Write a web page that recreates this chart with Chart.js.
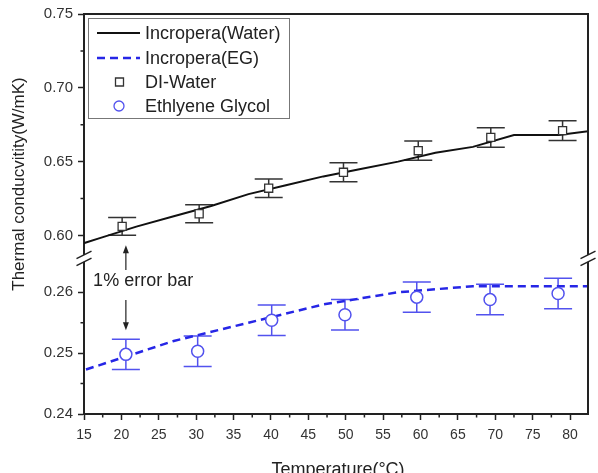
<!DOCTYPE html>
<html>
<head>
<meta charset="utf-8">
<script src="https://cdn.jsdelivr.net/npm/chart.js@4/dist/chart.umd.min.js"></script>
<style>
  html, body { margin: 0; padding: 0; background: #fff; }
  #wrap { width: 598px; height: 473px; }
</style>
</head>
<body>
<div id="wrap"><canvas id="myChart" width="598" height="473"></canvas></div>
<script>
// Incropera tables (lines)
const waterLineT = [12, 17, 22, 27, 32, 37, 42, 47, 52, 57, 62, 67, 72.5, 78.5, 83];
const waterLineK = [0.590, 0.598, 0.606, 0.613, 0.620, 0.628, 0.634, 0.640, 0.645, 0.650, 0.656, 0.660, 0.668, 0.668, 0.671];
const egLineT = [7, 17, 27, 37, 47, 57, 67, 77, 87];
const egLineK = [0.244, 0.248, 0.252, 0.255, 0.258, 0.260, 0.261, 0.261, 0.261];

// measured points + 1% error bars
const waterT = [20.1, 30.4, 39.7, 49.7, 59.7, 69.4, 79.0];
const waterK = [0.6061, 0.6147, 0.6320, 0.6428, 0.6574, 0.6664, 0.6710];
const waterErr = [0.0060, 0.0061, 0.0063, 0.0064, 0.0065, 0.0066, 0.0067];
const egT = [20.6, 30.2, 40.1, 49.9, 59.5, 69.3, 78.4];
const egK = [0.2498, 0.2503, 0.2554, 0.2563, 0.2592, 0.2588, 0.2598];
const egErr = [0.0025, 0.0025, 0.0025, 0.0025, 0.0025, 0.0025, 0.0025];

// ticks
const xTicks = [15, 20, 25, 30, 35, 40, 45, 50, 55, 60, 65, 70, 75, 80];
const xMinor = [17.5, 22.5, 27.5, 32.5, 37.5, 42.5, 47.5, 52.5, 57.5, 62.5, 67.5, 72.5, 77.5];
const yTopTicks = [0.60, 0.65, 0.70, 0.75];
const yTopMinor = [0.625, 0.675, 0.725];
const yBotTicks = [0.24, 0.25, 0.26];
const yBotMinor = [0.245, 0.255];

const FONT = 'Arial, "Liberation Sans", sans-serif';
const INK = '#222';
const BLUE = '#2626e6';
const BLUE_PT = '#5252ee';

const pts = (xs, ys) => xs.map((x, i) => ({ x: x, y: ys[i] }));

// error bars, drawn under the markers
const errorBars = {
  id: 'errorBars',
  beforeDatasetsDraw(chart) {
    const ctx = chart.ctx;
    const xs = chart.scales.x;
    chart.data.datasets.forEach(ds => {
      if (!ds.errors) return;
      const ys = chart.scales[ds.yAxisID];
      ctx.save();
      ctx.strokeStyle = ds.borderColor;
      ctx.lineWidth = 1.5;
      ds.data.forEach((p, j) => {
        const px = xs.getPixelForValue(p.x);
        const top = ys.getPixelForValue(p.y + ds.errors[j]);
        const bot = ys.getPixelForValue(p.y - ds.errors[j]);
        ctx.beginPath();
        ctx.moveTo(px, top); ctx.lineTo(px, bot);
        ctx.moveTo(px - 14, top); ctx.lineTo(px + 14, top);
        ctx.moveTo(px - 14, bot); ctx.lineTo(px + 14, bot);
        ctx.stroke();
      });
      ctx.restore();
    });
  }
};

function arrow(ctx, x, y0, y1) {
  const dir = y1 > y0 ? 1 : -1;
  ctx.beginPath();
  ctx.moveTo(x, y0); ctx.lineTo(x, y1 - dir * 6);
  ctx.stroke();
  ctx.beginPath();
  ctx.moveTo(x, y1);
  ctx.lineTo(x - 3, y1 - dir * 8);
  ctx.lineTo(x + 3, y1 - dir * 8);
  ctx.closePath();
  ctx.fill();
}

// frame, minor ticks, axis breaks, titles, note, legend
const decorations = {
  id: 'decorations',
  afterDraw(chart) {
    const ctx = chart.ctx;
    const a = chart.chartArea;
    const xs = chart.scales.x, yt = chart.scales.yTop, yb = chart.scales.yBot;
    ctx.save();
    ctx.strokeStyle = INK;
    ctx.fillStyle = INK;

    // top and right frame
    ctx.lineWidth = 2;
    ctx.beginPath();
    ctx.moveTo(a.left, a.top); ctx.lineTo(a.right, a.top); ctx.lineTo(a.right, a.bottom);
    ctx.stroke();

    // minor ticks
    ctx.lineWidth = 1.5;
    ctx.beginPath();
    xMinor.forEach(v => { const p = xs.getPixelForValue(v); ctx.moveTo(p, a.bottom); ctx.lineTo(p, a.bottom + 3.5); });
    yTopMinor.forEach(v => { const p = yt.getPixelForValue(v); ctx.moveTo(a.left, p); ctx.lineTo(a.left - 3.5, p); });
    yBotMinor.forEach(v => { const p = yb.getPixelForValue(v); ctx.moveTo(a.left, p); ctx.lineTo(a.left - 3.5, p); });
    ctx.stroke();

    // axis breaks
    const brk = yt.bottom;
    [a.left, a.right].forEach(x0 => {
      ctx.fillStyle = '#fff';
      ctx.fillRect(x0 - 2, brk - 3.5, 4, 7);
      ctx.strokeStyle = INK;
      ctx.lineWidth = 1.5;
      ctx.beginPath();
      [-3.5, 3.5].forEach(d => {
        ctx.moveTo(x0 - 7.5, brk + d + 3.8);
        ctx.lineTo(x0 + 7.5, brk + d - 3.8);
      });
      ctx.stroke();
    });

    // axis titles
    ctx.fillStyle = INK;
    ctx.font = '17px ' + FONT;
    ctx.textAlign = 'center';
    ctx.textBaseline = 'middle';
    ctx.save();
    ctx.translate(19, 184);
    ctx.rotate(-Math.PI / 2);
    ctx.fillText('Thermal conducvitity(W/mK)', 0, 0);
    ctx.restore();
    ctx.font = '18px ' + FONT;
    ctx.textBaseline = 'alphabetic';
    ctx.fillText('Temperature(°C)', (a.left + a.right) / 2 + 2, 475);

    // 1% error bar note
    const wx = xs.getPixelForValue(waterT[0]);
    const ex = xs.getPixelForValue(egT[0]);
    ctx.font = '18px ' + FONT;
    ctx.textBaseline = 'middle';
    ctx.fillText('1% error bar', wx + 21, 281);
    ctx.lineWidth = 1.2;
    arrow(ctx, ex, 270, yt.getPixelForValue(waterK[0] - waterErr[0]) + 10);
    arrow(ctx, ex, 300, yb.getPixelForValue(egK[0] + egErr[0]) - 9);

    // legend
    const lx = a.left + 4, ly = a.top + 4;
    ctx.fillStyle = '#fff';
    ctx.fillRect(lx, ly, 201, 100);
    ctx.strokeStyle = '#777';
    ctx.lineWidth = 1;
    ctx.strokeRect(lx + 0.5, ly + 0.5, 201, 100);
    const rows = [15, 40, 64, 88];
    chart.data.datasets.forEach((ds, i) => {
      const ry = ly + rows[i];
      ctx.save();
      if (ds.showLine) {
        ctx.strokeStyle = ds.borderColor;
        ctx.lineWidth = ds.borderWidth;
        ctx.setLineDash(ds.borderDash || []);
        ctx.beginPath();
        ctx.moveTo(lx + 9, ry); ctx.lineTo(lx + 52, ry);
        ctx.stroke();
      } else {
        ctx.strokeStyle = ds.borderColor;
        ctx.lineWidth = 1.3;
        ctx.beginPath();
        if (ds.pointStyle === 'rect') ctx.rect(lx + 27.5, ry - 4, 8, 8);
        else ctx.arc(lx + 31, ry, 5, 0, Math.PI * 2);
        ctx.stroke();
      }
      ctx.restore();
      ctx.fillStyle = INK;
      ctx.font = '18px ' + FONT;
      ctx.textAlign = 'left';
      ctx.textBaseline = 'middle';
      ctx.fillText(ds.label, lx + 57, ry + 1);
    });
    ctx.restore();
  }
};

const xFont = { family: FONT, size: 14 };
const yFont = { family: FONT, size: 15 };

new Chart(document.getElementById('myChart'), {
  type: 'scatter',
  data: {
    datasets: [
      {
        label: 'Incropera(Water)',
        data: pts(waterLineT, waterLineK),
        yAxisID: 'yTop',
        showLine: true,
        borderColor: '#111',
        borderWidth: 2,
        pointRadius: 0,
        order: 2
      },
      {
        label: 'Incropera(EG)',
        data: pts(egLineT, egLineK),
        yAxisID: 'yBot',
        showLine: true,
        borderColor: BLUE,
        borderWidth: 2.5,
        borderDash: [8, 5],
        pointRadius: 0,
        order: 2
      },
      {
        label: 'DI-Water',
        data: pts(waterT, waterK),
        errors: waterErr,
        yAxisID: 'yTop',
        pointStyle: 'rect',
        pointRadius: 5.7,
        borderColor: '#333',
        pointBorderWidth: 1.3,
        pointBackgroundColor: '#fff',
        order: 1
      },
      {
        label: 'Ethlyene Glycol',
        data: pts(egT, egK),
        errors: egErr,
        yAxisID: 'yBot',
        pointStyle: 'circle',
        pointRadius: 6,
        borderColor: BLUE_PT,
        pointBorderWidth: 1.5,
        pointBackgroundColor: '#fff',
        order: 1
      }
    ]
  },
  options: {
    responsive: false,
    animation: false,
    layout: { padding: { top: 13, right: 10, left: 0, bottom: 0 } },
    scales: {
      x: {
        type: 'linear',
        position: 'bottom',
        min: 15,
        max: 82.4,
        afterBuildTicks: s => { s.ticks = xTicks.map(v => ({ value: v })); },
        afterFit: s => { s.height = 59; },
        grid: { drawOnChartArea: false, tickLength: 6, tickColor: INK, tickWidth: 1.5 },
        border: { color: INK, width: 2 },
        ticks: { color: '#333', font: xFont, padding: 7, maxRotation: 0, autoSkip: false }
      },
      // left boxes are stacked in reverse order, so the lower part comes first
      yBot: {
        type: 'linear',
        position: 'left',
        stack: 'k',
        stackWeight: 156,
        min: 0.24,
        max: 0.26557,
        afterBuildTicks: s => { s.ticks = yBotTicks.map(v => ({ value: v })); },
        afterFit: s => { s.width = 84; },
        grid: { drawOnChartArea: false, tickLength: 6, tickColor: INK, tickWidth: 1.5 },
        border: { color: INK, width: 2 },
        ticks: { color: '#333', font: yFont, padding: 5, callback: v => v.toFixed(2) }
      },
      yTop: {
        type: 'linear',
        position: 'left',
        stack: 'k',
        stackWeight: 245,
        min: 0.58446,
        max: 0.75,
        afterBuildTicks: s => { s.ticks = yTopTicks.map(v => ({ value: v })); },
        afterFit: s => { s.width = 84; },
        grid: { drawOnChartArea: false, tickLength: 6, tickColor: INK, tickWidth: 1.5 },
        border: { color: INK, width: 2 },
        ticks: { color: '#333', font: yFont, padding: 5, callback: v => v.toFixed(2) }
      }
    },
    plugins: {
      legend: { display: false },
      tooltip: { enabled: false }
    }
  },
  plugins: [errorBars, decorations]
});
</script>
</body>
</html>
